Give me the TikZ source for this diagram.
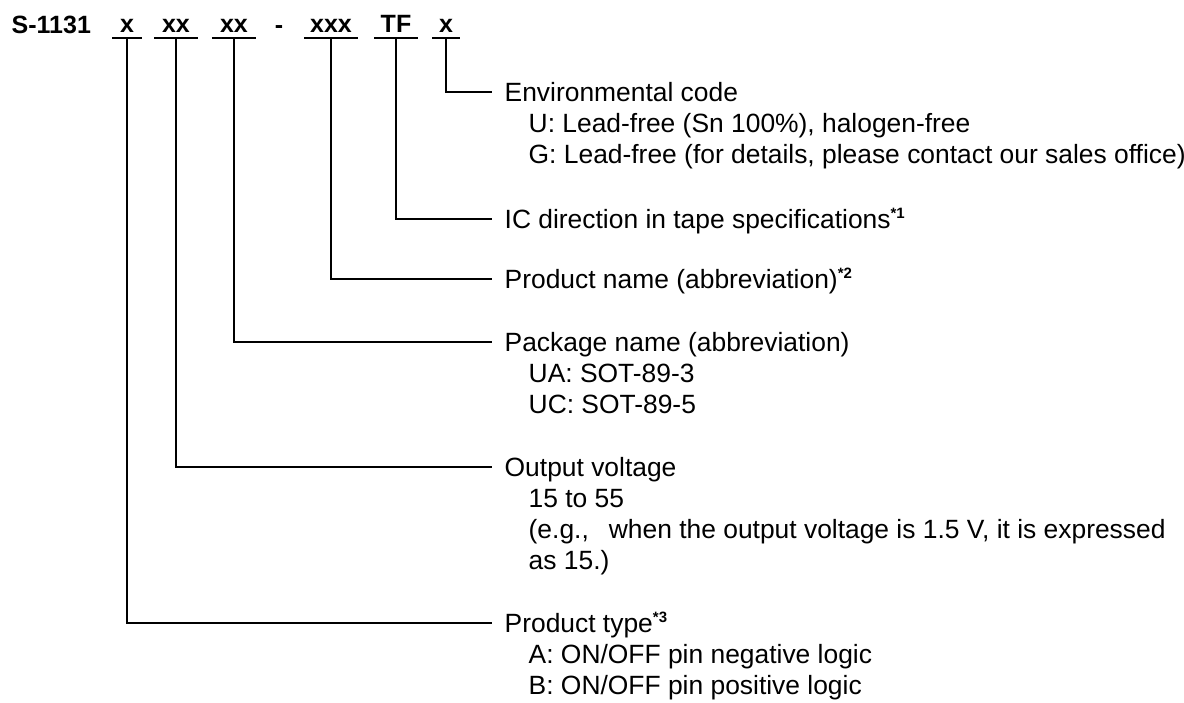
\documentclass[tikz,border=0pt]{standalone}
\usepackage{fontspec}
\setmainfont{Liberation Sans}
\newcommand{\fnmark}[1]{\raisebox{10pt}{\fontsize{15}{15}\selectfont\bfseries #1}}
\newcommand{\ind}{\hspace*{24pt}}
\newcommand{\labelrows}[1]{\begin{tabular}[t]{@{}l@{}}#1\end{tabular}}
\tikzset{
  partno/.style={font=\fontsize{25}{31}\selectfont\bfseries, inner sep=0},
  code/.style={font=\fontsize{25}{31}\selectfont\bfseries, inner xsep=0, inner ysep=0, text depth=5pt, anchor=south},
  lbl/.style={font=\fontsize{26.4}{31}\selectfont, inner sep=0, anchor=base west},
}
\begin{document}
\begin{tikzpicture}[x=1pt, y=-1pt, line width=1.4pt]
\useasboundingbox (0,0) rectangle (1184,702);

\node[partno, anchor=base west] (series) at (11,33) {S-1131};
\node[code, minimum width=28pt] (cx1) at (127,38) {x};
\node[code, minimum width=42pt] (cx2) at (176,38) {xx};
\node[code, minimum width=43pt] (cx3) at (234,38) {xx};
\node[partno, anchor=base] (dash) at (279,33) {-};
\node[code, minimum width=52pt] (cx4) at (331,38) {xxx};
\node[code, minimum width=42pt] (cx5) at (396,38) {TF};
\node[code, minimum width=26pt] (cx6) at (446,38) {x};

\node[lbl] (envcode) at (504,101) {\labelrows{Environmental code\\
  \ind U: Lead-free (Sn 100\%), halogen-free\\
  \ind G: Lead-free (for details, please contact our sales office)}};
\node[lbl] (icdir) at (504,228) {IC direction in tape specifications\fnmark{*1}};
\node[lbl] (pname) at (504,288) {Product name (abbreviation)\fnmark{*2}};
\node[lbl] (pkg) at (504,351) {\labelrows{Package name (abbreviation)\\
  \ind UA: SOT-89-3\\
  \ind UC: SOT-89-5}};
\node[lbl] (vout) at (504,476) {\labelrows{Output voltage\\
  \ind 15 to 55\\
  \ind (e.g.,\hspace{20pt}when the output voltage is 1.5 V, it is expressed\\
  \ind as 15.)}};
\node[lbl] (ptype) at (504,632) {\labelrows{Product type\fnmark{*3}\\
  \ind A: ON/OFF pin negative logic\\
  \ind B: ON/OFF pin positive logic}};

% underlines
\draw (cx1.south west) -- (cx1.south east);
\draw (cx2.south west) -- (cx2.south east);
\draw (cx3.south west) -- (cx3.south east);
\draw (cx4.south west) -- (cx4.south east);
\draw (cx5.south west) -- (cx5.south east);
\draw (cx6.south west) -- (cx6.south east);

% leaders
\draw (cx6.south) |- ([shift={(-12,-9)}]envcode.base west);
\draw (cx5.south) |- ([shift={(-12,-9)}]icdir.base west);
\draw (cx4.south) |- ([shift={(-12,-9)}]pname.base west);
\draw (cx3.south) |- ([shift={(-12,-9)}]pkg.base west);
\draw (cx2.south) |- ([shift={(-12,-9)}]vout.base west);
\draw (cx1.south) |- ([shift={(-12,-9)}]ptype.base west);

\end{tikzpicture}
\end{document}
